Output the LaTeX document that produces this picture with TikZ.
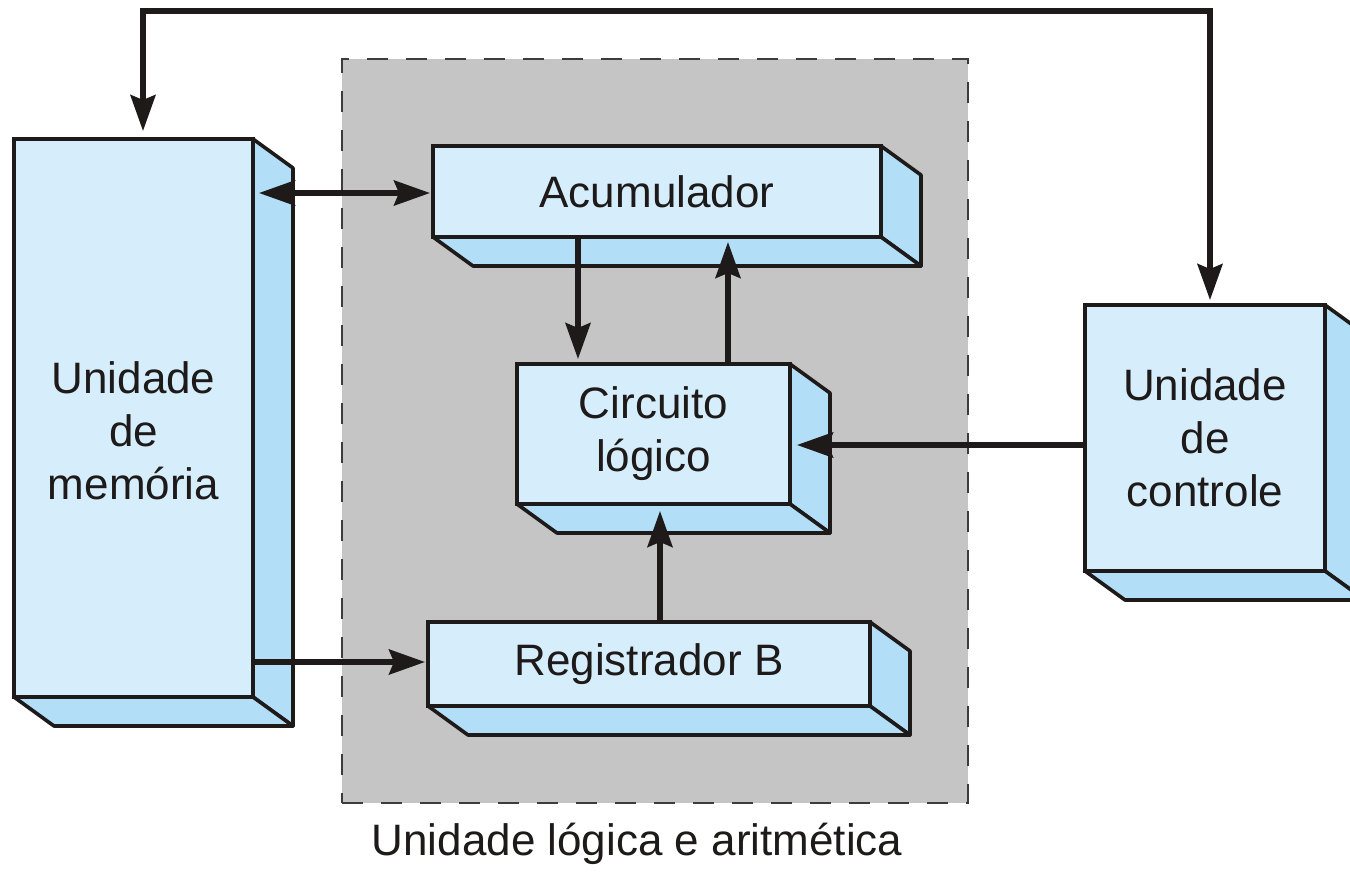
\documentclass[tikz,border=0pt]{standalone}
\usepackage{fontspec}
\setmainfont{Liberation Sans}
\usetikzlibrary{calc,fit,arrows.meta}
\definecolor{frontblue}{RGB}{214,238,252}
\definecolor{sideblue}{RGB}{178,222,248}
\definecolor{alugrey}{RGB}{197,197,197}
\definecolor{dashgrey}{RGB}{60,60,60}
\definecolor{ink}{RGB}{30,26,26}
\newcommand{\boxdepth}[1]{%
  \draw[depthface] (#1.north east) -- ($(#1.north east)+(40,29)$) -- ($(#1.south east)+(40,29)$) -- (#1.south east) -- cycle;
  \draw[depthface] (#1.south west) -- ($(#1.south west)+(40,29)$) -- ($(#1.south east)+(40,29)$) -- (#1.south east) -- cycle;}
\begin{document}
\begin{tikzpicture}[x=0.5pt,y=-0.5pt,
  txt/.style={font=\fontsize{22pt}{26.5pt}\selectfont, text=ink, align=center},
  front/.style={txt, draw=ink, line width=1.8pt, fill=frontblue, inner sep=0pt, outer sep=0pt, anchor=center},
  depthface/.style={draw=ink, line width=1.8pt, fill=sideblue, line join=round},
  region/.style={inner sep=0pt, fill=alugrey, draw=dashgrey, line width=1.4pt, dash pattern=on 10.5pt off 9pt},
  arr/.style={draw=ink, line width=2.6pt, >={Stealth[length=18pt,width=12.5pt,inset=2.5pt]}}]
\useasboundingbox (0,0) rectangle (1350,875);
\clip (0,0) rectangle (1350,875);
\fill[white] (0,0) rectangle (1350,875);

% ALU region
\node[region, fit={(342,59) (968,803)}] (alu) {};
\node[txt, anchor=base] (alulabel) at (637,855) {Unidade lógica e aritmética};

% boxes
\node[front, minimum width=119.5pt, minimum height=279pt] (mem) at (133.5,418) {};
\boxdepth{mem}
\node[txt] (memtext) at (133.5,431) {Unidade\\de\\memória};
\node[front, minimum width=224pt, minimum height=45.5pt] (acc) at (657,191.5) {Acumulador};
\boxdepth{acc}
\node[front, minimum width=136.5pt, minimum height=70pt] (circ) at (653.5,434) {Circuito\\lógico};
\boxdepth{circ}
\node[front, minimum width=221pt, minimum height=42pt] (reg) at (649,664) {Registrador B};
\boxdepth{reg}
\node[front, minimum width=120pt, minimum height=133pt] (ctl) at (1205,438) {Unidade\\de\\controle};
\boxdepth{ctl}

% connectors
\coordinate (tl) at ($(mem.north)+(9.5,-128)$);
\coordinate (tr) at ($(ctl.north)+(5,-294)$);
\draw[arr,<->] ($(mem.north)+(9.5,-8)$) -- (tl) -- (tr) -- ($(ctl.north)+(5,-5)$);
\draw[arr,<->] ($(mem.east |- acc.west)+(6,1.5)$) -- ($(acc.west)+(-3,1.5)$);
\draw[arr,->] ($(mem.east |- reg.west)+(0,-2)$) -- ($(reg.west)+(-3,-2)$);
\draw[arr,->] ($(acc.south -| circ.north)+(-75.5,0)$) -- ($(circ.north)+(-75.5,-5)$);
\draw[arr,->] ($(circ.north)+(74.5,0)$) -- ($(acc.south -| circ.north)+(74.5,5)$);
\draw[arr,->] ($(reg.north -| circ.south)+(6.5,0)$) -- ($(circ.south)+(6.5,7)$);
\draw[arr,->] ($(ctl.west |- circ.east)+(0,11)$) -- ($(circ.east)+(7,11)$);
\end{tikzpicture}
\end{document}
